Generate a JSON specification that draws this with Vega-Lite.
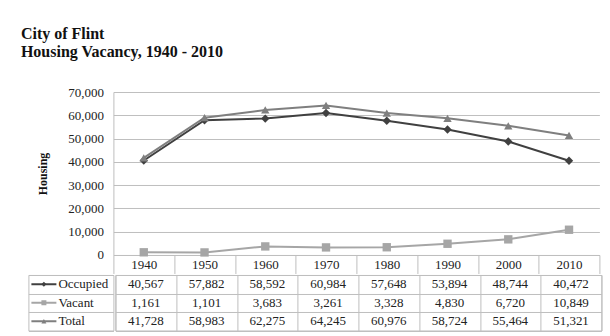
{
  "$schema": "https://vega.github.io/schema/vega-lite/v6.json",
  "background": "white",
  "padding": {"left": 20.4, "top": 26, "right": 9, "bottom": 5},
  "autosize": {"type": "pad"},
  "title": {
    "text": ["City of Flint", "Housing Vacancy, 1940 - 2010"],
    "anchor": "start",
    "frame": "bounds",
    "font": "Liberation Serif",
    "fontSize": 16,
    "fontWeight": "bold",
    "color": "#111111",
    "lineHeight": 18,
    "dx": -7,
    "offset": 26
  },
  "datasets": {
    "rows": [
      {"series": "Occupied", "year": "1940", "value": 40567},
      {"series": "Occupied", "year": "1950", "value": 57882},
      {"series": "Occupied", "year": "1960", "value": 58592},
      {"series": "Occupied", "year": "1970", "value": 60984},
      {"series": "Occupied", "year": "1980", "value": 57648},
      {"series": "Occupied", "year": "1990", "value": 53894},
      {"series": "Occupied", "year": "2000", "value": 48744},
      {"series": "Occupied", "year": "2010", "value": 40472},
      {"series": "Vacant", "year": "1940", "value": 1161},
      {"series": "Vacant", "year": "1950", "value": 1101},
      {"series": "Vacant", "year": "1960", "value": 3683},
      {"series": "Vacant", "year": "1970", "value": 3261},
      {"series": "Vacant", "year": "1980", "value": 3328},
      {"series": "Vacant", "year": "1990", "value": 4830},
      {"series": "Vacant", "year": "2000", "value": 6720},
      {"series": "Vacant", "year": "2010", "value": 10849},
      {"series": "Total", "year": "1940", "value": 41728},
      {"series": "Total", "year": "1950", "value": 58983},
      {"series": "Total", "year": "1960", "value": 62275},
      {"series": "Total", "year": "1970", "value": 64245},
      {"series": "Total", "year": "1980", "value": 60976},
      {"series": "Total", "year": "1990", "value": 58724},
      {"series": "Total", "year": "2000", "value": 55464},
      {"series": "Total", "year": "2010", "value": 51321}
    ],
    "legend": [
      {"series": "Occupied"},
      {"series": "Vacant"},
      {"series": "Total"}
    ]
  },
  "spacing": 0,
  "resolve": {"scale": {"x": "independent", "y": "independent"}},
  "vconcat": [
    {
      "spacing": 0,
      "bounds": "flush",
      "resolve": {"scale": {"x": "independent", "y": "independent"}},
      "hconcat": [
        {
          "width": 85,
          "height": 163,
          "data": {"values": []},
          "mark": "point"
        },
        {
          "width": 486,
          "height": 163,
          "data": {"name": "rows"},
          "encoding": {
            "x": {
              "field": "year",
              "type": "ordinal",
              "bandPosition": 0.5,
              "scale": {"type": "band", "paddingInner": 0, "paddingOuter": 0},
              "axis": {
                "title": null,
                "labelAngle": 0,
                "grid": false,
                "domain": true,
                "domainColor": "#bfbfbf",
                "ticks": true,
                "tickSize": 18.5,
                "tickBand": "extent",
                "tickColor": "#bfbfbf",
                "labelBaseline": "middle",
                "labelPadding": -9.25,
                "labelFont": "Liberation Serif",
                "labelFontSize": 13,
                "labelColor": "#222222"
              }
            },
            "y": {
              "field": "value",
              "type": "quantitative",
              "scale": {"domain": [0, 70000], "nice": false},
              "axis": {
                "title": "Housing",
                "titleFont": "Liberation Serif",
                "titleFontSize": 12,
                "titleFontWeight": "bold",
                "titleColor": "#111111",
                "titlePadding": 18,
                "values": [0, 10000, 20000, 30000, 40000, 50000, 60000, 70000],
                "format": ",d",
                "labelFont": "Liberation Serif",
                "labelFontSize": 13,
                "labelColor": "#222222",
                "labelPadding": 10,
                "ticks": false,
                "tickSize": 0,
                "minExtent": 46,
                "maxExtent": 46,
                "domain": true,
                "domainColor": "#bfbfbf",
                "grid": true,
                "gridColor": "#bfbfbf"
              }
            },
            "color": {
              "field": "series",
              "type": "nominal",
              "scale": {"domain": ["Occupied", "Vacant", "Total"], "range": ["#404040", "#a6a6a6", "#7f7f7f"]},
              "legend": null
            }
          },
          "layer": [
            {"mark": {"type": "line", "strokeWidth": 2}},
            {
              "mark": {"type": "point", "filled": true, "size": 70, "opacity": 1},
              "encoding": {
                "shape": {
                  "field": "series",
                  "type": "nominal",
                  "scale": {"domain": ["Occupied", "Vacant", "Total"], "range": ["diamond", "square", "triangle-up"]},
                  "legend": null
                }
              }
            }
          ]
        }
      ]
    },
    {
      "spacing": 0,
      "resolve": {"scale": {"x": "independent", "y": "independent"}},
      "hconcat": [
        {
          "width": 85,
          "height": 55.5,
          "data": {"name": "legend"},
          "view": {"stroke": "#bfbfbf"},
          "encoding": {
            "y": {
              "field": "series",
              "type": "nominal",
              "scale": {"type": "band", "domain": ["Occupied", "Vacant", "Total"], "paddingInner": 0, "paddingOuter": 0},
              "axis": {"title": null, "labels": false, "ticks": false, "domain": false, "grid": true, "tickBand": "extent", "gridColor": "#bfbfbf"}
            },
            "color": {
              "field": "series",
              "type": "nominal",
              "scale": {"domain": ["Occupied", "Vacant", "Total"], "range": ["#404040", "#a6a6a6", "#7f7f7f"]},
              "legend": null
            }
          },
          "layer": [
            {
              "mark": {"type": "rule", "strokeWidth": 2},
              "encoding": {
                "x": {"datum": 3, "type": "quantitative", "scale": {"domain": [0, 85], "nice": false, "zero": false}, "axis": null},
                "x2": {"datum": 28}
              }
            },
            {
              "mark": {"type": "point", "filled": true, "size": 25, "opacity": 1},
              "encoding": {
                "x": {"datum": 15.5, "type": "quantitative", "axis": null},
                "shape": {
                  "field": "series",
                  "type": "nominal",
                  "scale": {"domain": ["Occupied", "Vacant", "Total"], "range": ["diamond", "square", "triangle-up"]},
                  "legend": null
                }
              }
            },
            {
              "mark": {"type": "text", "align": "left", "baseline": "middle", "font": "Liberation Serif", "fontSize": 13, "color": "#222222"},
              "encoding": {
                "x": {"datum": 30, "type": "quantitative", "axis": null},
                "text": {"field": "series", "type": "nominal"},
                "color": {"value": "#222222"}
              }
            }
          ]
        },
        {
          "width": 486,
          "height": 55.5,
          "data": {"name": "rows"},
          "view": {"stroke": "#bfbfbf"},
          "mark": {"type": "text", "font": "Liberation Serif", "fontSize": 13, "color": "#222222", "baseline": "middle"},
          "encoding": {
            "x": {
              "field": "year",
              "type": "ordinal",
              "scale": {"type": "band", "paddingInner": 0, "paddingOuter": 0},
              "axis": {"title": null, "labels": false, "ticks": false, "domain": false, "grid": true, "tickBand": "extent", "gridColor": "#bfbfbf"}
            },
            "y": {
              "field": "series",
              "type": "nominal",
              "scale": {"type": "band", "domain": ["Occupied", "Vacant", "Total"], "paddingInner": 0, "paddingOuter": 0},
              "axis": {"title": null, "labels": false, "ticks": false, "domain": false, "grid": true, "tickBand": "extent", "gridColor": "#bfbfbf"}
            },
            "text": {"field": "value", "type": "quantitative", "format": ",d"}
          }
        }
      ]
    }
  ],
  "config": {"view": {"stroke": null}, "font": "Liberation Serif"}
}
